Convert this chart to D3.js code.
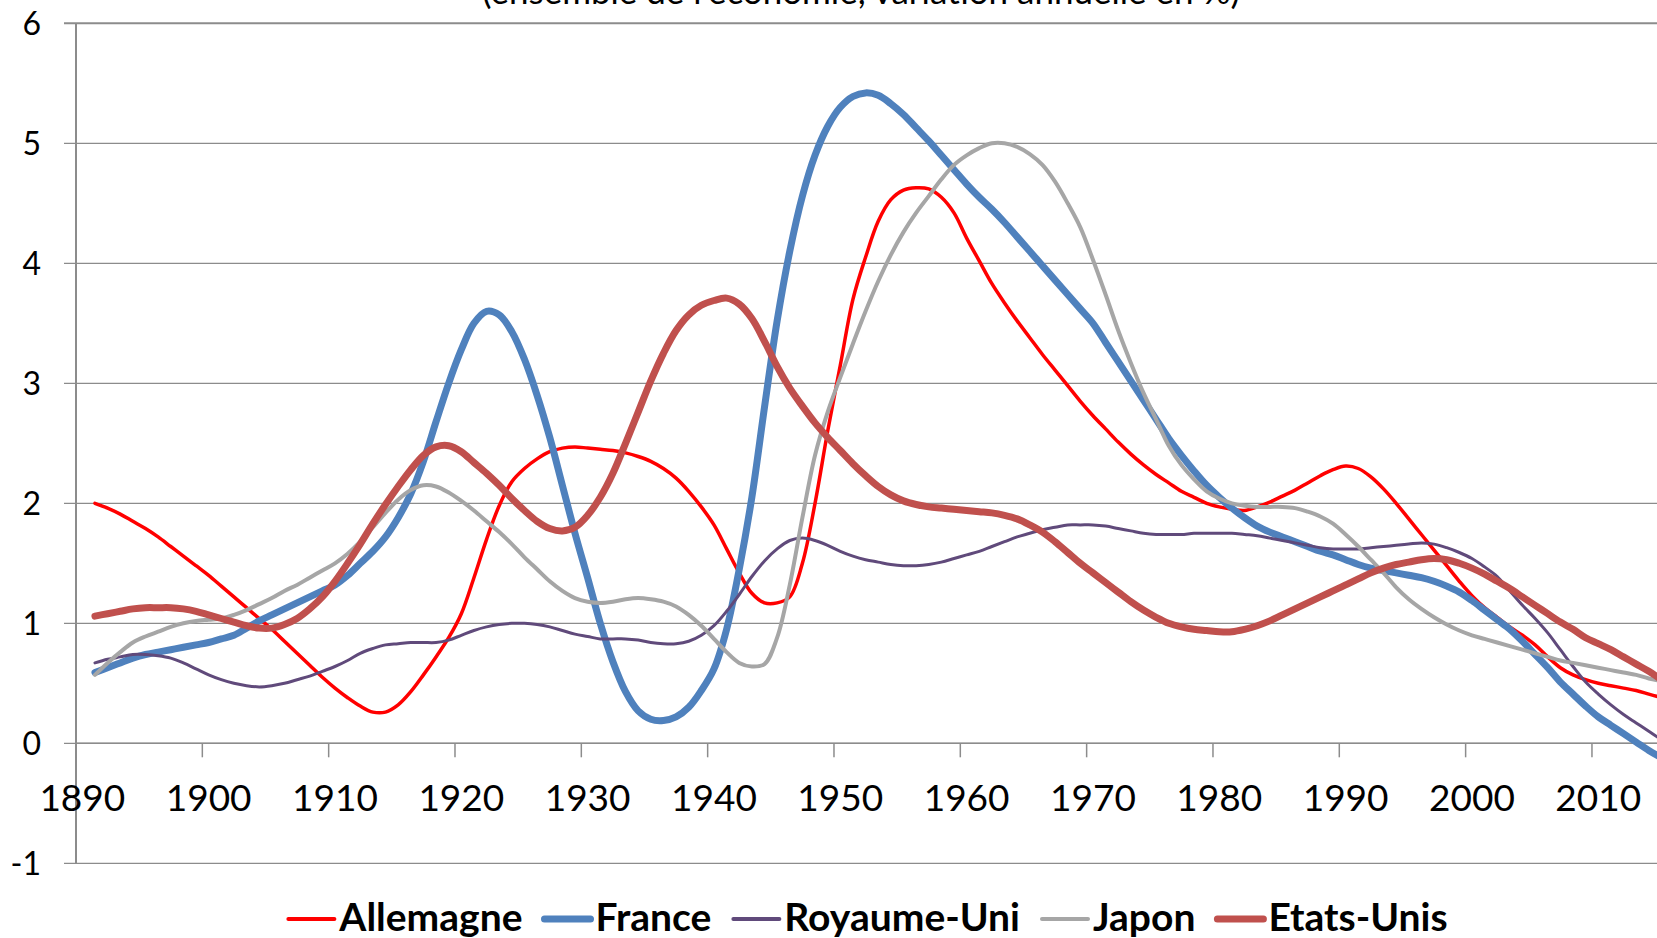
<!DOCTYPE html>
<html>
<head>
<meta charset="utf-8">
<script src="https://cdn.jsdelivr.net/npm/d3@7"></script>
<style>
  html, body { margin: 0; padding: 0; background: #fff; overflow: hidden; }
  text { font-family: Lato, "Open Sans", sans-serif; fill: #000; }
</style>
</head>
<body>
<div id="chart"></div>
<script>
// categories (first category 1890 has no value, series start in 1891)
var categories = d3.range(1890, 2016);
var years = d3.range(1891, 2016);

var yTicks = [-1, 0, 1, 2, 3, 4, 5, 6];
var xTickYears = [1890, 1900, 1910, 1920, 1930, 1940, 1950, 1960, 1970, 1980, 1990, 2000, 2010];

var subtitle = "(ensemble de l'économie, variation annuelle en %)";

// yearly values, 1891 -> 2015
var allemagne = [
  2.00, 1.96, 1.91, 1.85, 1.79, 1.72, 1.64, 1.56, 1.48, 1.40,
  1.31, 1.22, 1.13, 1.04, 0.95, 0.85, 0.75, 0.65, 0.55, 0.46,
  0.38, 0.31, 0.26, 0.26, 0.32, 0.43, 0.57, 0.72, 0.88, 1.08,
  1.38, 1.70, 1.98, 2.18, 2.29, 2.37, 2.43, 2.46, 2.47, 2.46,
  2.45, 2.44, 2.42, 2.39, 2.35, 2.29, 2.21, 2.10, 1.97, 1.82,
  1.62, 1.42, 1.25, 1.17, 1.17, 1.22, 1.50, 2.00, 2.60, 3.15,
  3.70, 4.05, 4.35, 4.53, 4.61, 4.63, 4.62, 4.55, 4.42, 4.21,
  4.02, 3.83, 3.67, 3.52, 3.38, 3.24, 3.11, 2.98, 2.85, 2.73,
  2.62, 2.51, 2.41, 2.32, 2.24, 2.17, 2.10, 2.05, 2.00, 1.97,
  1.95, 1.94, 1.97, 2.01, 2.06, 2.11, 2.17, 2.23, 2.28, 2.31,
  2.29, 2.22, 2.12, 2.00, 1.87, 1.74, 1.61, 1.48, 1.35, 1.23,
  1.13, 1.05, 0.97, 0.90, 0.82, 0.72, 0.63, 0.57, 0.53, 0.50,
  0.48, 0.46, 0.44, 0.41, 0.38
];

var france = [
  0.59, 0.63, 0.67, 0.71, 0.74, 0.76, 0.78, 0.80, 0.82, 0.84,
  0.87, 0.90, 0.96, 1.02, 1.07, 1.12, 1.17, 1.22, 1.27, 1.32,
  1.40, 1.50, 1.60, 1.72, 1.88, 2.08, 2.35, 2.68, 3.00, 3.28,
  3.50, 3.60, 3.57, 3.43, 3.20, 2.90, 2.55, 2.15, 1.75, 1.38,
  1.00, 0.68, 0.43, 0.27, 0.20, 0.19, 0.22, 0.30, 0.44, 0.62,
  0.95, 1.45, 2.05, 2.80, 3.52, 4.10, 4.56, 4.90, 5.14, 5.30,
  5.39, 5.42, 5.40, 5.33, 5.24, 5.13, 5.02, 4.90, 4.78, 4.66,
  4.55, 4.45, 4.34, 4.22, 4.10, 3.98, 3.86, 3.74, 3.62, 3.50,
  3.34, 3.18, 3.02, 2.86, 2.70, 2.54, 2.40, 2.27, 2.15, 2.05,
  1.96, 1.88, 1.81, 1.76, 1.72, 1.68, 1.64, 1.60, 1.57, 1.53,
  1.49, 1.46, 1.44, 1.42, 1.40, 1.38, 1.35, 1.31, 1.26, 1.19,
  1.11, 1.03, 0.95, 0.85, 0.74, 0.63, 0.51, 0.41, 0.31, 0.22,
  0.15, 0.08, 0.01, -0.06, -0.12
];

var royaumeUni = [
  0.67, 0.70, 0.72, 0.74, 0.74, 0.73, 0.71, 0.67, 0.62, 0.57,
  0.53, 0.50, 0.48, 0.47, 0.48, 0.50, 0.53, 0.56, 0.60, 0.64,
  0.69, 0.75, 0.79, 0.82, 0.83, 0.84, 0.84, 0.84, 0.86, 0.90,
  0.94, 0.97, 0.99, 1.00, 1.00, 0.99, 0.97, 0.94, 0.91, 0.89,
  0.87, 0.87, 0.87, 0.86, 0.84, 0.83, 0.83, 0.85, 0.90, 0.98,
  1.10, 1.24, 1.39, 1.52, 1.62, 1.69, 1.71, 1.69, 1.65, 1.60,
  1.56, 1.53, 1.51, 1.49, 1.48, 1.48, 1.49, 1.51, 1.54, 1.57,
  1.60, 1.64, 1.68, 1.72, 1.75, 1.78, 1.80, 1.82, 1.82, 1.82,
  1.81, 1.79, 1.77, 1.75, 1.74, 1.74, 1.74, 1.75, 1.75, 1.75,
  1.75, 1.74, 1.73, 1.71, 1.69, 1.67, 1.65, 1.63, 1.62, 1.62,
  1.62, 1.63, 1.64, 1.65, 1.66, 1.67, 1.66, 1.63, 1.59, 1.54,
  1.47, 1.39, 1.27, 1.15, 1.04, 0.92, 0.78, 0.64, 0.51, 0.41,
  0.32, 0.24, 0.17, 0.10, 0.03
];

var japon = [
  0.57, 0.67, 0.76, 0.84, 0.89, 0.93, 0.97, 1.00, 1.02, 1.03,
  1.04, 1.07, 1.11, 1.16, 1.21, 1.27, 1.32, 1.38, 1.44, 1.50,
  1.58, 1.68, 1.80, 1.92, 2.03, 2.11, 2.15, 2.14, 2.09, 2.02,
  1.94, 1.85, 1.76, 1.66, 1.55, 1.45, 1.35, 1.27, 1.21, 1.18,
  1.17, 1.18, 1.20, 1.21, 1.20, 1.18, 1.14, 1.07, 0.98, 0.87,
  0.76, 0.67, 0.64, 0.66, 0.88, 1.32, 1.88, 2.40, 2.76, 3.05,
  3.33, 3.60, 3.85, 4.07, 4.26, 4.42, 4.56, 4.70, 4.82, 4.90,
  4.96, 5.00, 5.00, 4.97, 4.91, 4.82, 4.68, 4.50, 4.30, 4.03,
  3.74, 3.44, 3.17, 2.92, 2.70, 2.48, 2.32, 2.20, 2.10, 2.04,
  2.00, 1.98, 1.97, 1.97, 1.97, 1.96, 1.93, 1.89, 1.83, 1.74,
  1.64, 1.53, 1.42, 1.30, 1.20, 1.12, 1.05, 0.99, 0.94, 0.90,
  0.87, 0.84, 0.81, 0.78, 0.75, 0.72, 0.69, 0.67, 0.65, 0.63,
  0.61, 0.59, 0.57, 0.54, 0.52
];

var etatsUnis = [
  1.06, 1.08, 1.10, 1.12, 1.13, 1.13, 1.13, 1.12, 1.10, 1.07,
  1.04, 1.01, 0.98, 0.96, 0.96, 0.99, 1.04, 1.12, 1.22, 1.35,
  1.50, 1.66, 1.83, 1.99, 2.14, 2.28, 2.40, 2.47, 2.48, 2.43,
  2.34, 2.25, 2.15, 2.04, 1.94, 1.85, 1.79, 1.77, 1.80, 1.90,
  2.05, 2.25, 2.50, 2.76, 3.02, 3.25, 3.44, 3.57, 3.65, 3.69,
  3.71, 3.66, 3.54, 3.35, 3.14, 2.96, 2.81, 2.67, 2.55, 2.44,
  2.33, 2.23, 2.14, 2.07, 2.02, 1.99, 1.97, 1.96, 1.95, 1.94,
  1.93, 1.92, 1.90, 1.87, 1.82, 1.76, 1.68, 1.59, 1.50, 1.42,
  1.34, 1.26, 1.18, 1.11, 1.05, 1.00, 0.97, 0.95, 0.94, 0.93,
  0.93, 0.95, 0.98, 1.02, 1.07, 1.12, 1.17, 1.22, 1.27, 1.32,
  1.37, 1.42, 1.46, 1.49, 1.51, 1.53, 1.54, 1.53, 1.50, 1.46,
  1.41, 1.35, 1.29, 1.22, 1.15, 1.08, 1.01, 0.95, 0.88, 0.83,
  0.78, 0.72, 0.66, 0.60, 0.53
];

var seriesNames = ["Allemagne", "France", "Royaume-Uni", "Japon", "Etats-Unis"];
var seriesColors = ["#ff0000", "#4f81bd", "#604a7b", "#a6a6a6", "#c0504d"];
var seriesWidths = [3.5, 7, 3, 4, 7];
var seriesValues = [allemagne, france, royaumeUni, japon, etatsUnis];

var W = 1657, H = 938;
var plotLeft = 76;
var step = 12.633;
var gridColor = "#8c8c8c";

var svg = d3.select("#chart").append("svg")
  .attr("width", W)
  .attr("height", H);

var x = d3.scaleBand()
  .domain(categories)
  .range([plotLeft, plotLeft + categories.length * step])
  .paddingInner(0)
  .paddingOuter(0);

var y = d3.scaleLinear().domain([-1, 6]).range([863.3, 23.3]);

// subtitle, cut by the top of the picture as in the original
svg.append("text")
  .attr("x", 861)
  .attr("y", 4)
  .attr("text-anchor", "middle")
  .style("font-size", "35px")
  .text(subtitle);

// horizontal gridlines + y ticks
svg.append("g")
  .selectAll("line")
  .data(yTicks)
  .enter()
  .append("line")
  .attr("x1", plotLeft - 12)
  .attr("x2", W)
  .attr("y1", (d) => y(d))
  .attr("y2", (d) => y(d))
  .attr("stroke", gridColor)
  .attr("stroke-width", (d) => d == 6 ? 2 : 1.3);

// y axis
svg.append("line")
  .attr("x1", plotLeft).attr("x2", plotLeft)
  .attr("y1", y(6)).attr("y2", y(-1))
  .attr("stroke", gridColor)
  .attr("stroke-width", 2);

// x axis (crosses at 0) with ticks between categories
svg.append("line")
  .attr("x1", plotLeft).attr("x2", W)
  .attr("y1", y(0)).attr("y2", y(0))
  .attr("stroke", gridColor)
  .attr("stroke-width", 1.6);

svg.append("g")
  .selectAll("line")
  .data(xTickYears)
  .enter()
  .append("line")
  .attr("x1", (d) => x(d))
  .attr("x2", (d) => x(d))
  .attr("y1", y(0))
  .attr("y2", y(0) + 14)
  .attr("stroke", gridColor)
  .attr("stroke-width", 1.5);

svg.append("g")
  .selectAll("text")
  .data(yTicks)
  .enter()
  .append("text")
  .attr("x", 41)
  .attr("y", (d) => y(d) + 11.5)
  .attr("text-anchor", "end")
  .style("font-size", "32px")
  .text((d) => d);

svg.append("g")
  .selectAll("text")
  .data(xTickYears)
  .enter()
  .append("text")
  .attr("x", (d) => x(d) + x.bandwidth() / 2)
  .attr("y", y(0) + 67.5)
  .attr("text-anchor", "middle")
  .style("font-size", "37px")
  .text((d) => d);

// series
var line = d3.line()
  .x((d) => x(d[0]) + x.bandwidth() / 2)
  .y((d) => y(d[1]))
  .curve(d3.curveCatmullRom.alpha(0.5));

var series = seriesNames.map((name, i) => ({
  name: name,
  color: seriesColors[i],
  width: seriesWidths[i],
  points: years.map((yr, j) => [yr, seriesValues[i][j]])
}));

svg.append("g")
  .selectAll("path")
  .data(series)
  .enter()
  .append("path")
  .attr("d", (d) => line(d.points))
  .attr("fill", "none")
  .attr("stroke", (d) => d.color)
  .attr("stroke-width", (d) => d.width)
  .attr("stroke-linejoin", "round")
  .attr("stroke-linecap", "round");

// legend, centred under the plot
var legendY = 919;
var symbolLen = 46, symbolGap = 5, itemGap = 22;
var legend = svg.append("g");
var items = legend.selectAll("g")
  .data(series)
  .enter()
  .append("g");

items.append("line")
  .attr("x1", 0).attr("x2", symbolLen)
  .attr("y1", legendY).attr("y2", legendY)
  .attr("stroke", (d) => d.color)
  .attr("stroke-width", (d) => Math.max(d.width, 4))
  .attr("stroke-linecap", "round");

items.append("text")
  .attr("x", symbolLen + symbolGap)
  .attr("y", legendY + 12)
  .style("font-size", "39px")
  .style("font-weight", "bold")
  .text((d) => d.name);

var offsets = [];
var total = 0;
items.each(function (d, i) {
  var tw = d3.select(this).select("text").node().getComputedTextLength();
  offsets.push(total);
  total += symbolLen + symbolGap + tw + (i < series.length - 1 ? itemGap : 0);
});
var legendLeft = 868 - total / 2;
items.attr("transform", (d, i) => "translate(" + (legendLeft + offsets[i]) + ",0)");
</script>
</body>
</html>
